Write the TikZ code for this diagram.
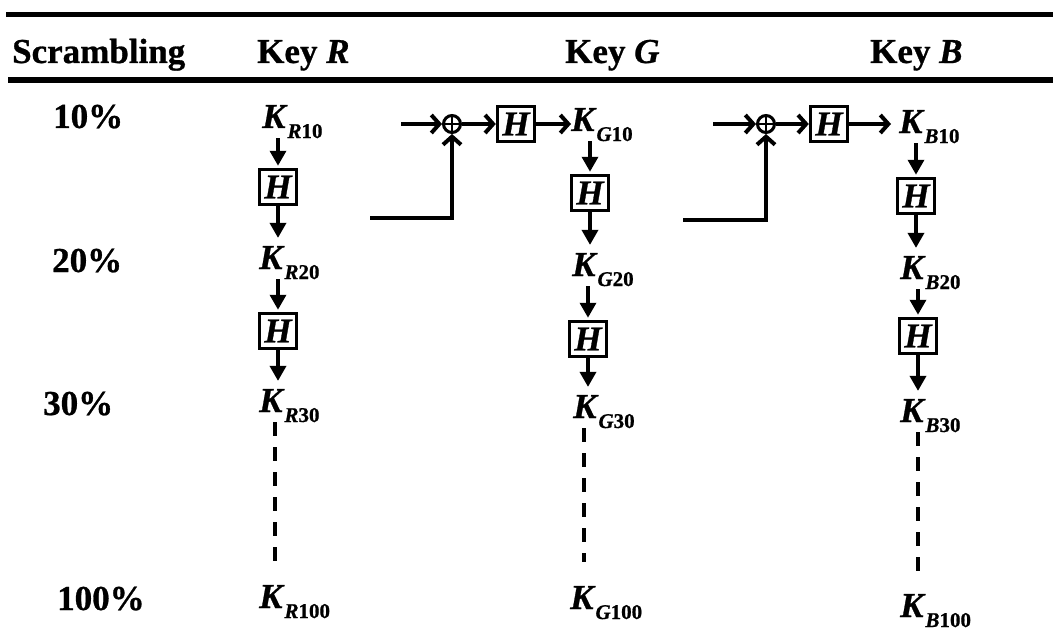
\documentclass[tikz,border=0pt]{standalone}
\usepackage{fontspec}
\setmainfont{Liberation Serif}[BoldFeatures={FakeBold=0.8},BoldItalicFeatures={FakeBold=0.8}]
\usetikzlibrary{arrows.meta}

% K with a bold subscript: #1 italic letter, #2 number
\newcommand{\keyK}[2]{\textit{K}\raisebox{-10pt}{\fontsize{21}{21}\selectfont\textit{#1}#2}}

\tikzset{
  x=1pt, y=-1pt,
  txt/.style={font=\fontsize{35}{35}\selectfont\bfseries, inner sep=0pt, anchor=base west},
  hbox/.style={draw, line width=3.5pt, minimum width=37pt, minimum height=35pt,
               inner sep=0pt, font=\fontsize{35}{35}\selectfont\bfseries\itshape},
  xorc/.style={circle, draw, line width=3pt, minimum size=17pt, inner sep=0pt},
  varr/.style={line width=3.5pt, -{Triangle[length=15pt,width=16pt]}},
  harr/.style={line width=4pt, line join=miter, -{Straight Barb[length=8pt,width=18pt]}},
  dotline/.style={line width=3.5pt, dash pattern=on 14pt off 11pt},
  rulebar/.style={line width=5.5pt}
}

\begin{document}
\begin{tikzpicture}
\useasboundingbox (0,0) rectangle (1053,634);

% table rules
\draw[rulebar] (6,14.5) -- (1053,14.5);
\draw[rulebar] (8,80) -- (1053,80);

% header
\node[txt] (hdS) at (12,63) {Scrambling};
\node[txt] (hdR) at (257,63) {Key \textit{R}};
\node[txt] (hdG) at (565,63) {Key \textit{G}};
\node[txt] (hdB) at (870,63) {Key \textit{B}};

% scrambling levels
\node[txt] (p10) at (53,128) {10\%};
\node[txt] (p20) at (52,272) {20\%};
\node[txt] (p30) at (43,415) {30\%};
\node[txt] (p100) at (57,610) {100\%};

% key R chain
\node[txt] (kR10) at (262,128) {\keyK{R}{10}};
\node[hbox] (hR1) at (278,187) {H};
\node[txt] (kR20) at (259,269) {\keyK{R}{20}};
\node[hbox] (hR2) at (278,331) {H};
\node[txt] (kR30) at (259,412) {\keyK{R}{30}};
\node[txt] (kR100) at (259,608) {\keyK{R}{100}};

% key G chain
\node[txt] (kG10) at (571,131) {\keyK{G}{10}};
\node[hbox] (hG1) at (590,193) {H};
\node[txt] (kG20) at (572,276) {\keyK{G}{20}};
\node[hbox] (hG2) at (588,339) {H};
\node[txt] (kG30) at (573,418) {\keyK{G}{30}};
\node[txt] (kG100) at (570,609) {\keyK{G}{100}};

% key B chain
\node[txt] (kB10) at (899,133) {\keyK{B}{10}};
\node[hbox] (hB1) at (916,196) {H};
\node[txt] (kB20) at (900,279) {\keyK{B}{20}};
\node[hbox] (hB2) at (918,336) {H};
\node[txt] (kB30) at (900,422) {\keyK{B}{30}};
\node[txt] (kB100) at (900,617) {\keyK{B}{100}};

% vertical hashing steps
\foreach \c in {R,G,B}{
  \draw[varr, shorten >=2pt] (h\c1 |- k\c10.south) -- (h\c1.north);
  \draw[varr, shorten >=8pt] (h\c1.south) -- (h\c1 |- k\c20.north);
  \draw[varr, shorten >=2pt] (h\c2 |- k\c20.south) -- (h\c2.north);
  \draw[varr, shorten >=8pt] (h\c2.south) -- (h\c2 |- k\c30.north);
}
% remaining steps up to 100%
\draw[dotline, shorten >=24pt] ([xshift=-3pt]hR2 |- kR30.south) -- ([xshift=-3pt]hR2 |- kR100.north);
\draw[dotline, shorten >=24pt] ([xshift=-4pt]hG2 |- kG30.south) -- ([xshift=-4pt]hG2 |- kG100.north);
\draw[dotline, shorten >=22pt] (hB2 |- kB30.south) -- (hB2 |- kB100.north);

% XOR + hash feeding key G
\coordinate (inG) at (401,124);
\coordinate (fbG) at (370,218);
\node[xorc] (xG) at (452,124) {};
\draw[line width=2.5pt] (xG.north) -- (xG.south) (xG.west) -- (xG.east);
\node[hbox] (hG0) at (516,124) {H};
\draw[harr] (inG) -- (xG.west);
\draw[harr] (fbG) -| (xG.south);
\draw[harr] (xG.east) -- (hG0.west);
\draw[harr] (hG0.east) -- (hG0.east -| kG10.west);

% XOR + hash feeding key B
\coordinate (inB) at (713,124);
\coordinate (fbB) at (683,220);
\node[xorc] (xB) at (766,124) {};
\draw[line width=2.5pt] (xB.north) -- (xB.south) (xB.west) -- (xB.east);
\node[hbox] (hB0) at (829,124) {H};
\draw[harr] (inB) -- (xB.west);
\draw[harr] (fbB) -| (xB.south);
\draw[harr] (xB.east) -- (hB0.west);
\draw[harr, shorten >=8pt] (hB0.east) -- (hB0.east -| kB10.west);
\end{tikzpicture}
\end{document}
